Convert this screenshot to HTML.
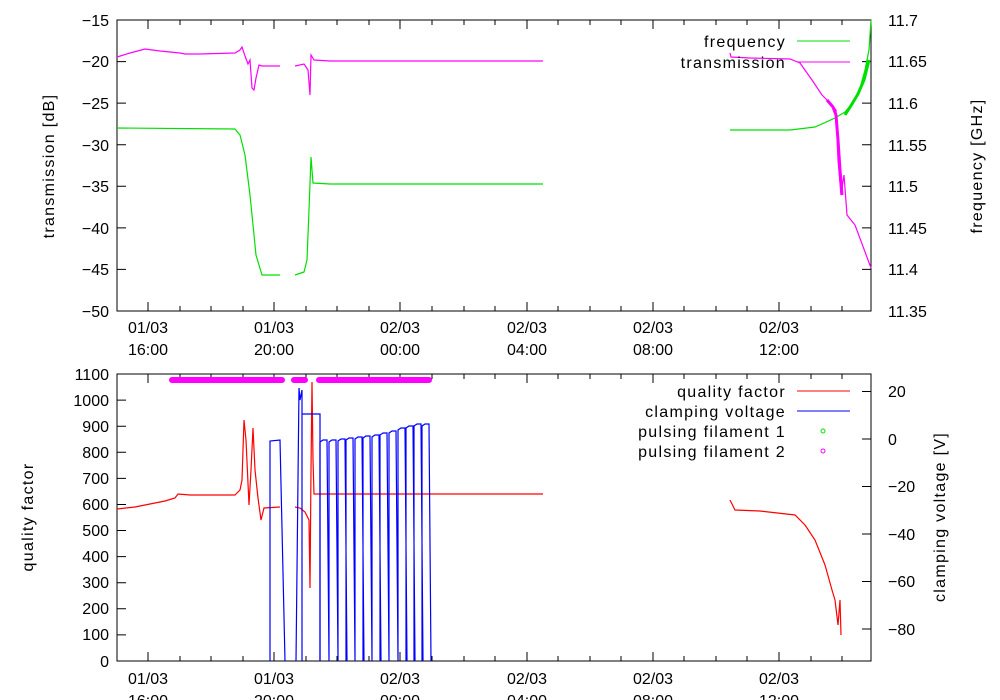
<!DOCTYPE html>
<html><head><meta charset="utf-8"><style>body{margin:0;background:#fff}svg{display:block;font-family:"Liberation Sans",sans-serif;font-size:16px}.w{letter-spacing:1.3px}</style></head><body>
<svg width="1000" height="700" xmlns="http://www.w3.org/2000/svg">
<g stroke="#000" fill="none">
<rect x="117" y="20" width="754" height="291"/>
<rect x="117" y="374" width="754" height="287"/>
<path d="M117 20h9M117 61.6h9M117 103.1h9M117 144.7h9M117 186.3h9M117 227.9h9M117 269.4h9M871 20h-9M871 61.6h-9M871 103.1h-9M871 144.7h-9M871 186.3h-9M871 227.9h-9M871 269.4h-9
M148 20v9M274 20v9M400 20v9M527 20v9M653 20v9M779 20v9M148 311v-9M274 311v-9M400 311v-9M527 311v-9M653 311v-9M779 311v-9
M180 20v5M211 20v5M243 20v5M306 20v5M337 20v5M369 20v5M432 20v5M464 20v5M495 20v5M558 20v5M590 20v5M621 20v5M684 20v5M716 20v5M747 20v5M811 20v5M842 20v5
M180 311v-5M211 311v-5M243 311v-5M306 311v-5M337 311v-5M369 311v-5M432 311v-5M464 311v-5M495 311v-5M558 311v-5M590 311v-5M621 311v-5M684 311v-5M716 311v-5M747 311v-5M811 311v-5M842 311v-5"/>
<path d="M117 400.1h9M117 426.2h9M117 452.3h9M117 478.4h9M117 504.5h9M117 530.5h9M117 556.6h9M117 582.7h9M117 608.8h9M117 634.9h9M871 391.5h-9M871 439h-9M871 486.5h-9M871 534h-9M871 581.5h-9M871 629h-9
M148 374v9M274 374v9M400 374v9M527 374v9M653 374v9M779 374v9M148 661v-9M274 661v-9M400 661v-9M527 661v-9M653 661v-9M779 661v-9
M180 374v5M211 374v5M243 374v5M306 374v5M337 374v5M369 374v5M432 374v5M464 374v5M495 374v5M558 374v5M590 374v5M621 374v5M684 374v5M716 374v5M747 374v5M811 374v5M842 374v5
M180 661v-5M211 661v-5M243 661v-5M306 661v-5M337 661v-5M369 661v-5M432 661v-5M464 661v-5M495 661v-5M558 661v-5M590 661v-5M621 661v-5M684 661v-5M716 661v-5M747 661v-5M811 661v-5M842 661v-5"/>
</g>
<g text-anchor="end">
<text x="109" y="26">−15</text><text x="109" y="67">−20</text><text x="109" y="109">−25</text><text x="109" y="151">−30</text><text x="109" y="192">−35</text><text x="109" y="234">−40</text><text x="109" y="275">−45</text><text x="109" y="317">−50</text>
<text x="109" y="380">1100</text><text x="109" y="406">1000</text><text x="109" y="432">900</text><text x="109" y="458">800</text><text x="109" y="484">700</text><text x="109" y="510">600</text><text x="109" y="536">500</text><text x="109" y="562">400</text><text x="109" y="588">300</text><text x="109" y="614">200</text><text x="109" y="640">100</text><text x="109" y="667">0</text>
</g>
<g text-anchor="start">
<text x="888" y="26">11.7</text><text x="888" y="67">11.65</text><text x="888" y="109">11.6</text><text x="888" y="151">11.55</text><text x="888" y="192">11.5</text><text x="888" y="234">11.45</text><text x="888" y="275">11.4</text><text x="888" y="317">11.35</text>
<text x="888" y="397">20</text><text x="888" y="445">0</text><text x="888" y="492">−20</text><text x="888" y="540">−40</text><text x="888" y="587">−60</text><text x="888" y="635">−80</text>
</g>
<g text-anchor="middle">
<text x="148" y="333">01/03</text><text x="148" y="355">16:00</text><text x="274" y="333">01/03</text><text x="274" y="355">20:00</text><text x="400" y="333">02/03</text><text x="400" y="355">00:00</text><text x="527" y="333">02/03</text><text x="527" y="355">04:00</text><text x="653" y="333">02/03</text><text x="653" y="355">08:00</text><text x="779" y="333">02/03</text><text x="779" y="355">12:00</text>
<text x="148" y="684">01/03</text><text x="148" y="706">16:00</text><text x="274" y="684">01/03</text><text x="274" y="706">20:00</text><text x="400" y="684">02/03</text><text x="400" y="706">00:00</text><text x="527" y="684">02/03</text><text x="527" y="706">04:00</text><text x="653" y="684">02/03</text><text x="653" y="706">08:00</text><text x="779" y="684">02/03</text><text x="779" y="706">12:00</text>
<text class="w" transform="translate(54,166) rotate(-90)">transmission [dB]</text>
<text class="w" transform="translate(982,166) rotate(-90)">frequency [GHz]</text>
<text class="w" transform="translate(33,517) rotate(-90)">quality factor</text>
<text class="w" transform="translate(945,517) rotate(-90)">clamping voltage [V]</text>
</g>
<g fill="none" stroke-width="1.2">
<polyline stroke="#00e000" points="117,128 235,129 240,135 245,155 250,195 254,235 256,255 262,275 280,275"/>
<polyline stroke="#00e000" points="295,275 304,272 307,260 309,210 311,157 313,183 330,184 543,184"/>
<polyline stroke="#00e000" points="730,130 790,130 815,127 835,118 845,112 850,106 855,98 860,88 865,70 869,50 871,20"/>
<polyline stroke="#00e000" stroke-width="3" points="845,115 852,104 858,94 864,80 869,60"/>
<polyline stroke="#f0f" points="117,57 130,53 145,49 160,51 170,52 180,53 185,54 200,54 235,53 240,50 242,47 245,56 248,64 250,60 252,88 254,90 256,78 259,65 262,66 280,66"/>
<polyline stroke="#f0f" points="295,66 304,64 308,70 310,95 311,55 314,60 330,61 543,61"/>
<polyline stroke="#f0f" points="730,53 731,57 750,58 790,59 800,63 812,80 822,95 830,103 836,110 838,160 841,195 844,175 847,215 855,225 871,268"/>
<polyline stroke="#f0f" stroke-width="3" points="827,100 833,107 836,115 838,140 840,170 842,195"/>
<polyline stroke="#f00" points="117,509 135,507 150,504 165,501 175,498 178,494 190,495 235,495 240,490 242,480 244,420 246,440 249,505 251,470 253,428 255,470 258,498 261,520 264,508 280,507"/>
<polyline stroke="#f00" points="295,507 300,508 305,512 309,520 310,588 311,470 312,382 313,460 314,494 330,494 543,494"/>
<polyline stroke="#f00" points="730,500 735,510 760,511 795,515 805,525 815,540 825,565 832,590 835,600 838,625 840,600 841,635"/>
<polyline stroke="#00f" points="270,661 270,441 280,440 285,661"/>
<polyline stroke="#00f" points="296,661 299,388 300,400 302,390 302,661 302,414 320,414 320,661"/>
<path stroke="#00f" d="M320 661V442l3-2h4l2 221M329 661V442l3-2h4l2 221M338 661V441l3-2h4l2 222M346 661V440l3-2h4l2 223M355 661V439l3-2h4l2 224M363 661V438l3-2h4l2 225M372 661V437l3-2h4l2 226M380 661V435l3-2h4l2 228M389 661V433l3-2h4l2 230M398 661V430l3-2h4l2 233M406 661V428l3-2h4l2 235M414 661V426l3-2h4l2 237M422 661V426l3-2h4l2 237"/>
</g>
<g stroke="#f0f" stroke-width="6" stroke-linecap="round">
<path d="M172 380H282M294 380H305M319 380H429"/>
</g>
<g text-anchor="end" class="w">
<text x="786" y="47">frequency</text><text x="786" y="68">transmission</text>
<text x="786" y="397">quality factor</text><text x="786" y="417">clamping voltage</text><text x="786" y="437">pulsing filament 1</text><text x="786" y="457">pulsing filament 2</text>
</g>
<g fill="none">
<path stroke="#00e000" d="M797 41h53"/><path stroke="#f0f" d="M797 62h53"/>
<path stroke="#f00" d="M797 391h53"/><path stroke="#00f" d="M797 411h53"/>
<circle cx="823" cy="431" r="2" stroke="#00e000"/><circle cx="823" cy="451" r="2" stroke="#f0f"/>
</g>
</svg>
</body></html>
